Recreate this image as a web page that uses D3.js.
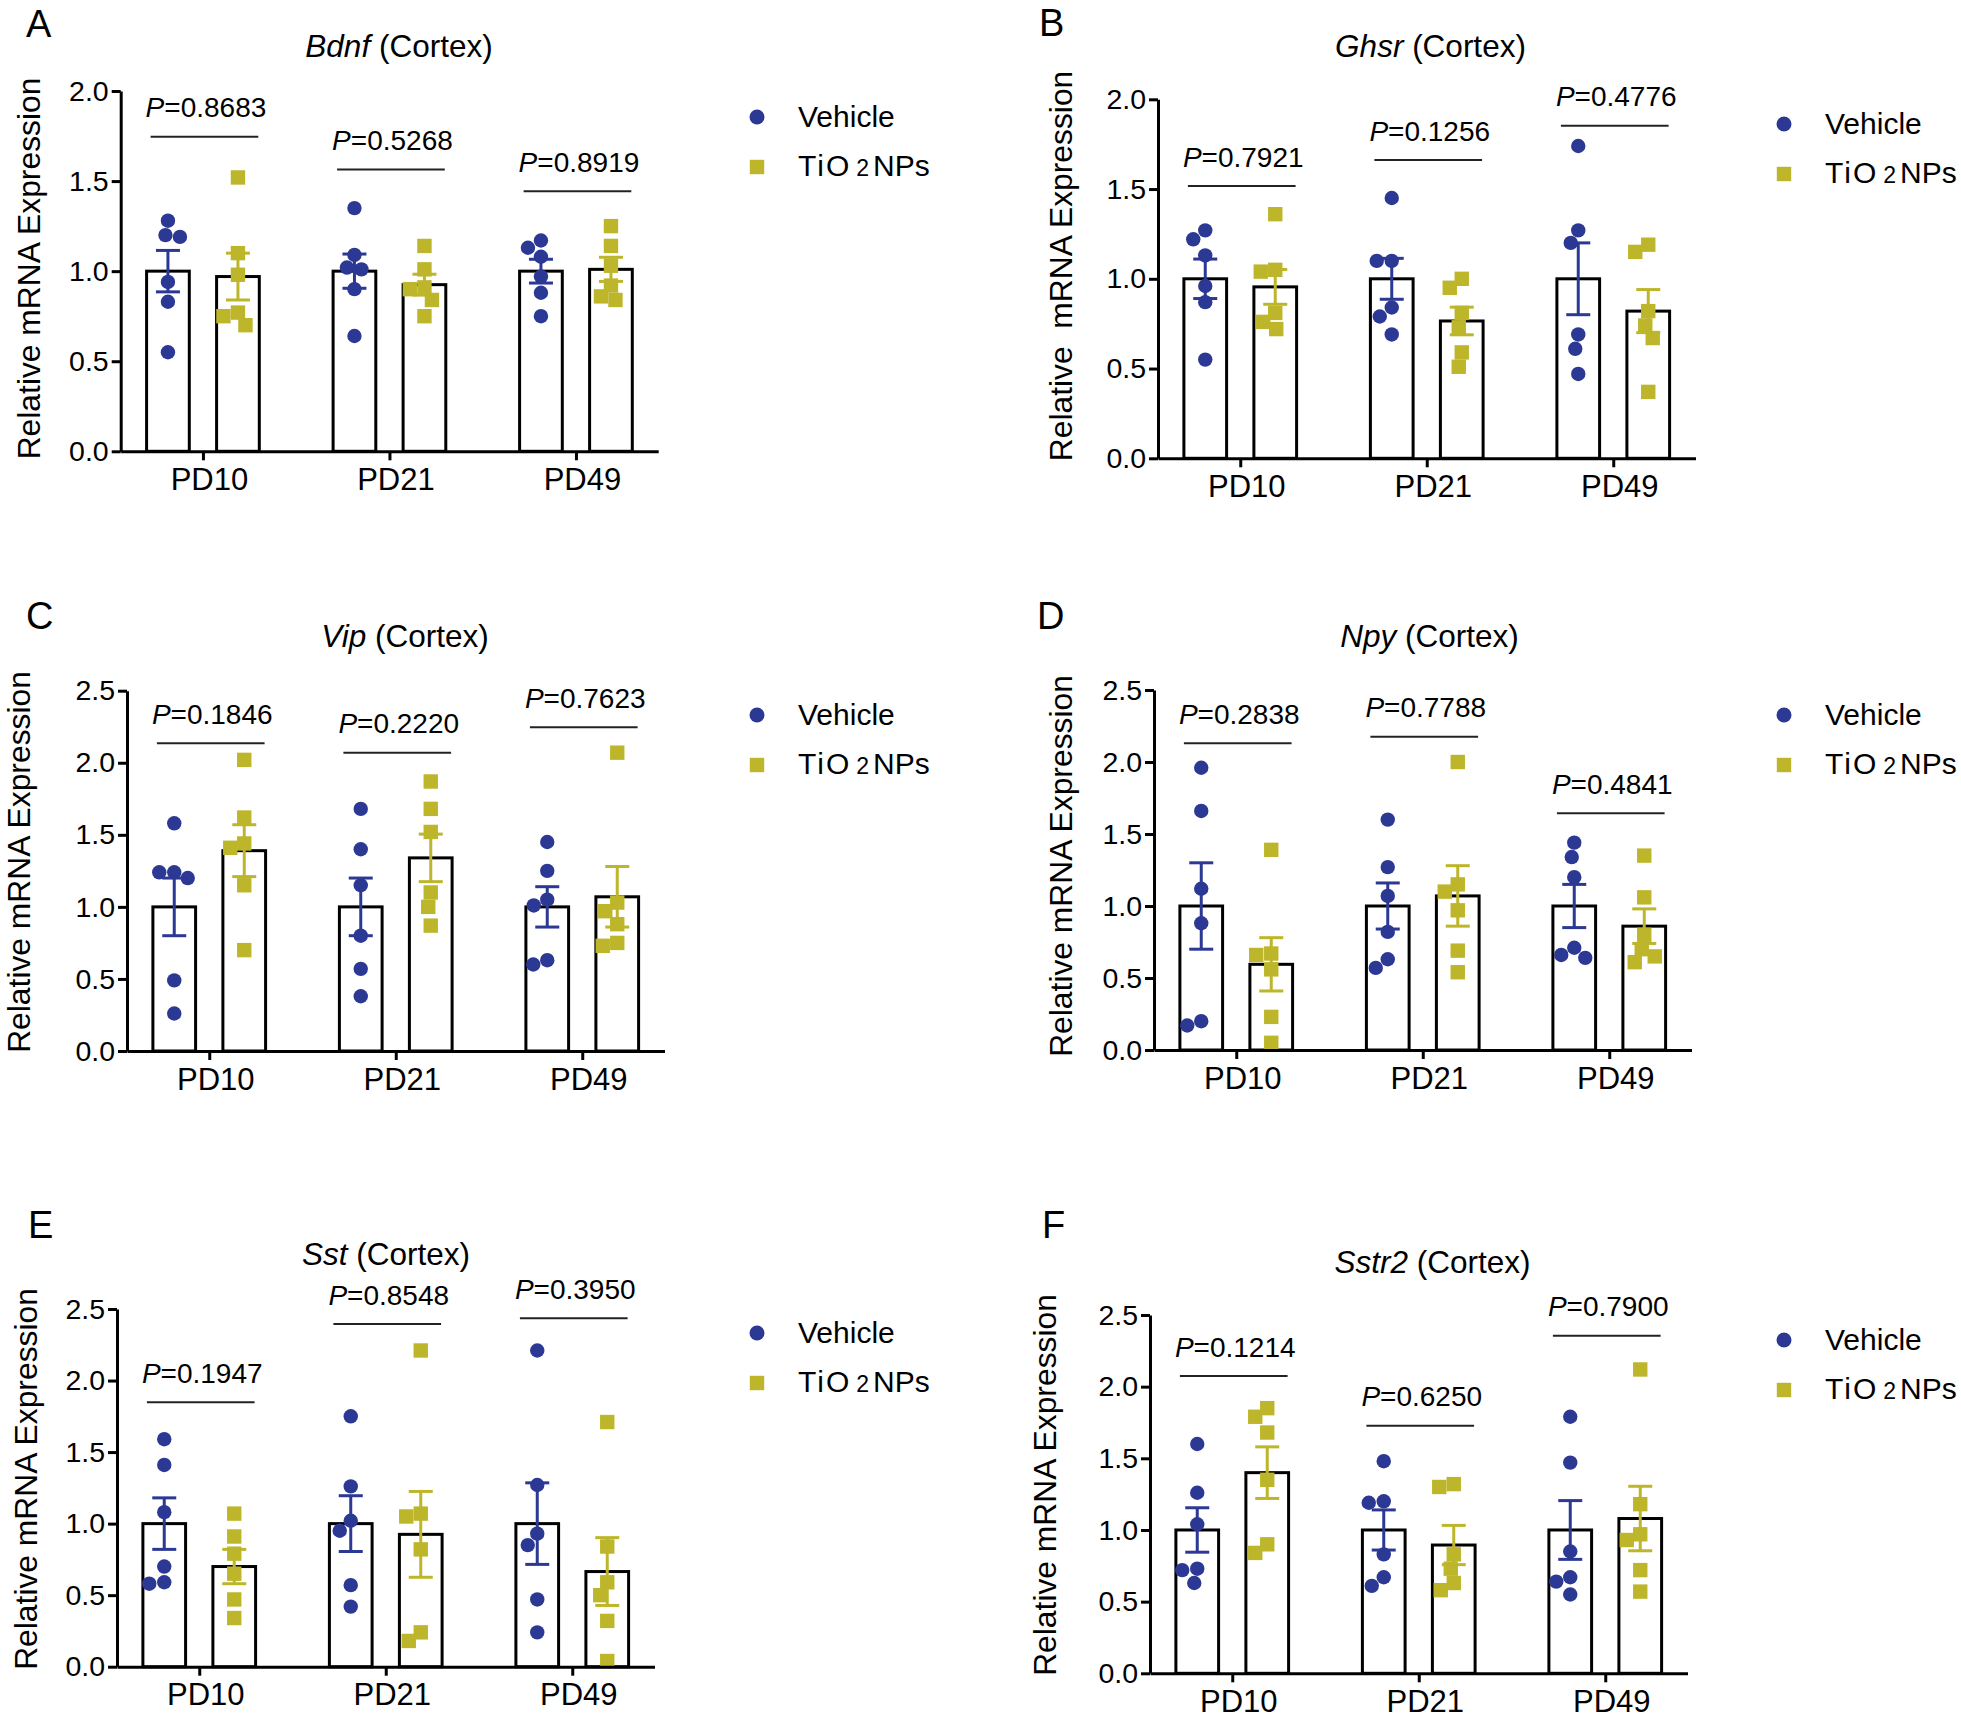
<!DOCTYPE html>
<html><head><meta charset="utf-8">
<script src="https://cdn.jsdelivr.net/npm/d3@7"></script>
<style>
body{margin:0;background:#fff;}
svg text{font-family:"Liberation Sans",Arial,Helvetica,sans-serif;fill:#000;}
</style></head><body>
<svg id="chart" width="1961" height="1724"></svg>
<script>
// ---------------- DATA ----------------
const categories = ["PD10", "PD21", "PD49"];
const seriesNames = ["Vehicle", "TiO2NPs"];
const ticks20 = [0, 0.5, 1.0, 1.5, 2.0];
const ticks25 = [0, 0.5, 1.0, 1.5, 2.0, 2.5];
const panelLetters = ["A", "B", "C", "D", "E", "F"];
const genes = ["Bdnf", "Ghsr", "Vip", "Npy", "Sst", "Sstr2"];
const yLabels = ["Relative mRNA Expression", "Relative  mRNA Expression", "Relative mRNA Expression",
                 "Relative mRNA Expression", "Relative mRNA Expression", "Relative mRNA Expression"];

// A: Bdnf
const bdnfVehicle = [[1.28, 1.20, 1.19, 0.94, 0.83, 0.55], [1.35, 1.09, 1.02, 1.01, 0.90, 0.64], [1.17, 1.13, 1.08, 0.97, 0.88, 0.75]];
const bdnfTiO2    = [[1.52, 1.10, 0.98, 0.77, 0.75, 0.70], [1.14, 1.01, 0.91, 0.90, 0.84, 0.75], [1.25, 1.14, 1.03, 0.92, 0.86, 0.84]];
const bdnfMeanV = [1.0, 1.0, 1.0], bdnfMeanT = [0.97, 0.925, 1.01];
const bdnfSemV = [0.115, 0.095, 0.066], bdnfSemT = [0.13, 0.058, 0.067];
const bdnfP = ["0.8683", "0.5268", "0.8919"];
const bdnfBracket = [1.746, 1.564, 1.444];

// B: Ghsr
const ghsrVehicle = [[1.27, 1.22, 1.13, 0.96, 0.87, 0.55], [1.45, 1.10, 1.10, 0.84, 0.79, 0.69], [1.74, 1.27, 1.20, 0.69, 0.61, 0.47]];
const ghsrTiO2    = [[1.36, 1.05, 1.04, 0.81, 0.76, 0.72], [1.00, 0.95, 0.81, 0.73, 0.59, 0.51], [1.19, 1.15, 0.82, 0.74, 0.67, 0.37]];
const ghsrMeanV = [1.0, 1.0, 1.0], ghsrMeanT = [0.955, 0.765, 0.82];
const ghsrSemV = [0.11, 0.114, 0.2], ghsrSemT = [0.097, 0.077, 0.12];
const ghsrP = ["0.7921", "0.1256", "0.4776"];
const ghsrBracket = [1.517, 1.662, 1.853];

// C: Vip
const vipVehicle = [[1.58, 1.24, 1.24, 1.20, 0.49, 0.26], [1.68, 1.40, 1.15, 0.80, 0.57, 0.38], [1.45, 1.25, 1.05, 1.01, 0.63, 0.60]];
const vipTiO2    = [[2.02, 1.62, 1.44, 1.41, 1.15, 0.70], [1.87, 1.68, 1.52, 1.10, 1.00, 0.87], [2.07, 1.03, 0.97, 0.88, 0.75, 0.73]];
const vipMeanV = [1.0, 1.0, 1.0], vipMeanT = [1.39, 1.34, 1.07];
const vipSemV = [0.2, 0.2, 0.14], vipSemT = [0.18, 0.165, 0.21];
const vipP = ["0.1846", "0.2220", "0.7623"];
const vipBracket = [2.135, 2.07, 2.246];

// D: Npy
const npyVehicle = [[1.96, 1.66, 1.12, 0.88, 0.20, 0.17], [1.60, 1.27, 1.07, 0.82, 0.63, 0.57], [1.44, 1.34, 1.20, 0.71, 0.66, 0.64]];
const npyTiO2    = [[1.39, 0.67, 0.66, 0.56, 0.23, 0.05], [2.00, 1.15, 1.10, 0.97, 0.69, 0.54], [1.35, 1.06, 0.80, 0.70, 0.65, 0.61]];
const npyMeanV = [1.0, 1.0, 1.0], npyMeanT = [0.595, 1.07, 0.86];
const npySemV = [0.3, 0.16, 0.15], npySemT = [0.185, 0.21, 0.12];
const npyP = ["0.2838", "0.7788", "0.4841"];
const npyBracket = [2.13, 2.176, 1.644];

// E: Sst
const sstVehicle = [[1.59, 1.41, 1.08, 0.70, 0.59, 0.58], [1.75, 1.26, 1.02, 0.95, 0.57, 0.42], [2.21, 1.27, 0.93, 0.85, 0.47, 0.24]];
const sstTiO2    = [[1.07, 0.91, 0.79, 0.65, 0.47, 0.34], [2.21, 1.07, 1.05, 0.82, 0.24, 0.18], [1.71, 0.84, 0.59, 0.50, 0.32, 0.04]];
const sstMeanV = [1.0, 1.0, 1.0], sstMeanT = [0.70, 0.925, 0.665];
const sstSemV = [0.18, 0.195, 0.285], sstSemT = [0.12, 0.30, 0.237];
const sstP = ["0.1947", "0.8548", "0.3950"];
const sstBracket = [1.848, 2.395, 2.435];

// F: Sstr2
const sstr2Vehicle = [[1.60, 1.26, 1.04, 0.73, 0.72, 0.63], [1.48, 1.20, 1.19, 0.83, 0.67, 0.61], [1.79, 1.47, 0.85, 0.67, 0.64, 0.55]];
const sstr2TiO2    = [[1.85, 1.79, 1.68, 1.35, 0.90, 0.84], [1.32, 1.30, 0.83, 0.73, 0.63, 0.58], [2.12, 1.18, 0.97, 0.93, 0.72, 0.57]];
const sstr2MeanV = [1.0, 1.0, 1.0], sstr2MeanT = [1.40, 0.895, 1.08];
const sstr2SemV = [0.155, 0.14, 0.205], sstr2SemT = [0.18, 0.137, 0.225];
const sstr2P = ["0.1214", "0.6250", "0.7900"];
const sstr2Bracket = [2.074, 1.728, 2.356];

// ---------------- ASSEMBLY ----------------
const panelData = [
  {v: bdnfVehicle, t: bdnfTiO2, mv: bdnfMeanV, mt: bdnfMeanT, sv: bdnfSemV, st: bdnfSemT, p: bdnfP, br: bdnfBracket, ticks: ticks20},
  {v: ghsrVehicle, t: ghsrTiO2, mv: ghsrMeanV, mt: ghsrMeanT, sv: ghsrSemV, st: ghsrSemT, p: ghsrP, br: ghsrBracket, ticks: ticks20},
  {v: vipVehicle, t: vipTiO2, mv: vipMeanV, mt: vipMeanT, sv: vipSemV, st: vipSemT, p: vipP, br: vipBracket, ticks: ticks25},
  {v: npyVehicle, t: npyTiO2, mv: npyMeanV, mt: npyMeanT, sv: npySemV, st: npySemT, p: npyP, br: npyBracket, ticks: ticks25},
  {v: sstVehicle, t: sstTiO2, mv: sstMeanV, mt: sstMeanT, sv: sstSemV, st: sstSemT, p: sstP, br: sstBracket, ticks: ticks25},
  {v: sstr2Vehicle, t: sstr2TiO2, mv: sstr2MeanV, mt: sstr2MeanT, sv: sstr2SemV, st: sstr2SemT, p: sstr2P, br: sstr2Bracket, ticks: ticks25}
];

// layout (pixels)
const layout = [
  {axisX: 120.7, yTop: 91,    yBot: 451.3,  letter: [26, 37],     title: [399, 57],      ylab: [40, 268.5],  legend: [757, 117]},
  {axisX: 1158,  yTop: 99.3,  yBot: 458.3,  letter: [1039, 36],   title: [1430.5, 57],   ylab: [1072, 266],  legend: [1784, 124]},
  {axisX: 127,   yTop: 690.7, yBot: 1051,   letter: [26, 629],    title: [405, 647],     ylab: [29.5, 862],  legend: [757, 715]},
  {axisX: 1154,  yTop: 690,   yBot: 1050,   letter: [1037, 629],  title: [1429.5, 647],  ylab: [1072, 866],  legend: [1784, 715]},
  {axisX: 117,   yTop: 1309,  yBot: 1666.7, letter: [28, 1238],   title: [386, 1265],    ylab: [37, 1479],   legend: [757, 1333]},
  {axisX: 1150,  yTop: 1315,  yBot: 1673.3, letter: [1042, 1238], title: [1432.5, 1273], ylab: [1056, 1485], legend: [1784, 1340]}
];

const COL_V = "#2B3894";
const COL_T = "#BDB62B";
const PLOT_W = 537.5;
const DOT_R = 7.2, SQ = 14.4;

const svg = d3.select("#chart");

function swarm(values, yScale, cx, d) {
  const placed = [];
  const order = values.map((v, i) => ({v, i, y: yScale(v)})).sort((a, b) => a.y - b.y);
  const res = new Array(values.length);
  for (const p of order) {
    let best = null;
    for (let k = 0; k < 400 && best === null; k++) {
      const offs = k === 0 ? [0] : [-k * 0.5, k * 0.5];
      for (const o of offs) {
        const ok = placed.every(q => Math.hypot(q.x - (cx + o), q.y - p.y) >= d - 0.01);
        if (ok) { best = cx + o; break; }
      }
    }
    placed.push({x: best, y: p.y});
    res[p.i] = {x: best, y: p.y, v: p.v};
  }
  return res;
}

panelData.forEach((pd, idx) => {
  const L = layout[idx];
  const g = svg.append("g");
  const yMax = d3.max(pd.ticks);
  const y = d3.scaleLinear().domain([0, yMax]).range([L.yBot, L.yTop]);
  const x = d3.scalePoint().domain(categories).range([L.axisX, L.axisX + PLOT_W]).padding(0.441);
  const inner = d3.scaleBand().domain(seriesNames).range([-56.35, 56.35]).paddingInner(0.39).paddingOuter(0);
  const bw = inner.bandwidth();

  // bars
  categories.forEach((c, ci) => {
    [[seriesNames[0], pd.mv[ci]], [seriesNames[1], pd.mt[ci]]].forEach(([s, m]) => {
      g.append("rect")
        .attr("x", x(c) + inner(s)).attr("y", y(m))
        .attr("width", bw).attr("height", y(0) - y(m))
        .attr("fill", "#fff").attr("stroke", "#000").attr("stroke-width", 3);
    });
  });

  // points
  categories.forEach((c, ci) => {
    const cxV = x(c) + inner(seriesNames[0]) + bw / 2;
    const cxT = x(c) + inner(seriesNames[1]) + bw / 2;
    swarm(pd.v[ci], y, cxV, 14.6).forEach(p => {
      g.append("circle").attr("cx", p.x).attr("cy", p.y).attr("r", DOT_R).attr("fill", COL_V);
    });
    swarm(pd.t[ci], y, cxT, 14.6).forEach(p => {
      g.append("rect").attr("x", p.x - SQ / 2).attr("y", p.y - SQ / 2)
        .attr("width", SQ).attr("height", SQ).attr("fill", COL_T);
    });
    // error bars
    [[cxV, pd.mv[ci], pd.sv[ci], COL_V], [cxT, pd.mt[ci], pd.st[ci], COL_T]].forEach(([cx, m, s, col]) => {
      const eg = g.append("g").attr("stroke", col).attr("stroke-width", 3).attr("fill", "none");
      eg.append("line").attr("x1", cx).attr("x2", cx).attr("y1", y(m - s)).attr("y2", y(m + s));
      eg.append("line").attr("x1", cx - 12).attr("x2", cx + 12).attr("y1", y(m + s)).attr("y2", y(m + s));
      eg.append("line").attr("x1", cx - 12).attr("x2", cx + 12).attr("y1", y(m - s)).attr("y2", y(m - s));
    });
    // brackets
    const bx1 = x(c) + inner(seriesNames[0]) + 4;
    const bx2 = x(c) + inner(seriesNames[1]) + bw - 1;
    const by = y(pd.br[ci]);
    g.append("line").attr("x1", bx1).attr("x2", bx2).attr("y1", by).attr("y2", by)
      .attr("stroke", "#222").attr("stroke-width", 2);
    const pt = g.append("text").attr("x", x(c) + 3).attr("y", by - 19.4)
      .attr("text-anchor", "middle").attr("font-size", 28);
    pt.append("tspan").attr("font-style", "italic").text("P");
    pt.append("tspan").text("=" + pd.p[ci]);
  });

  // axes
  const yAxis = d3.axisLeft(y).tickValues(pd.ticks).tickFormat(d3.format(".1f"))
    .tickSize(9).tickSizeOuter(0).tickPadding(3);
  const ya = g.append("g").attr("transform", `translate(${L.axisX},0)`).call(yAxis);
  const xAxis = d3.axisBottom(x).tickSize(9).tickSizeOuter(0).tickPadding(7.5);
  const xa = g.append("g").attr("transform", `translate(0,${L.yBot})`).call(xAxis);
  [ya, xa].forEach(a => {
    a.select(".domain").attr("stroke", "#000").attr("stroke-width", 3);
    a.selectAll(".tick line").attr("stroke", "#000").attr("stroke-width", 3);
    a.selectAll("text").attr("fill", "#000").attr("font-family", "Liberation Sans, Arial, sans-serif");
  });
  ya.selectAll("text").attr("font-size", 28.5);
  xa.selectAll("text").attr("font-size", 31).attr("dx", 6);

  // panel letter
  g.append("text").attr("x", L.letter[0]).attr("y", L.letter[1]).attr("font-size", 38).text(panelLetters[idx]);

  // title
  const tt = g.append("text").attr("x", L.title[0]).attr("y", L.title[1]).attr("text-anchor", "middle").attr("font-size", 31.5);
  tt.append("tspan").attr("font-style", "italic").text(genes[idx]);
  tt.append("tspan").text(" (Cortex)");

  // y label
  g.append("text").attr("transform", `translate(${L.ylab[0]},${L.ylab[1]}) rotate(-90)`)
    .attr("text-anchor", "middle").attr("font-size", 31.8).style("white-space", "pre")
    .text(yLabels[idx]);

  // legend
  const [lx, ly] = L.legend;
  g.append("circle").attr("cx", lx).attr("cy", ly).attr("r", 7.5).attr("fill", COL_V);
  g.append("rect").attr("x", lx - 7.2).attr("y", ly + 50 - 7.2).attr("width", 14.4).attr("height", 14.4).attr("fill", COL_T);
  g.append("text").attr("x", lx + 41).attr("y", ly + 10).attr("font-size", 30).text(seriesNames[0]);
  const lt = g.append("text").attr("x", lx + 41).attr("y", ly + 58.5).attr("font-size", 30);
  lt.append("tspan").attr("letter-spacing", 2).text("TiO");
  lt.append("tspan").attr("dx", 5).attr("font-size", 23).text("2");
  lt.append("tspan").attr("dx", 4).text("NPs");
});
</script>
</body></html>
